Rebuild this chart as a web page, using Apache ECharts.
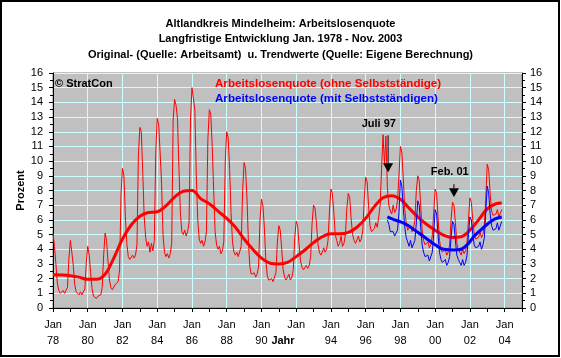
<!DOCTYPE html>
<html>
<head>
<meta charset="utf-8">
<script src="https://cdn.jsdelivr.net/npm/echarts@6/dist/echarts.min.js"></script>
<style>
html,body{margin:0;padding:0;background:#fff;}
#c{width:561px;height:358px;}
</style>
</head>
<body>
<div id="c"></div>
<script>
// Tick labels of the time axis (every second January, months counted from Jan 1978)
// (the year "92" is covered by the axis title "Jahr" in the original)
const yearTicks = ['78','80','82','84','86','88','90','','94','96','98','00','02','04'];

// Title lines
const titleLines = [
  'Altlandkreis Mindelheim: Arbeitslosenquote',
  'Langfristige Entwicklung Jan. 1978 - Nov. 2003',
  'Original- (Quelle: Arbeitsamt)  u. Trendwerte (Quelle: Eigene Berechnung)'
];

// Arbeitslosenquote ohne Selbstständige, monthly Jan 1978 - Nov 2003
const redQuote = [
  5.1, 4.2, 3.0, 1.7, 1.2, 1.0, 1.0, 1.2, 1.0, 1.1, 1.4, 3.4,      // 1978
  4.6, 3.8, 2.9, 1.6, 1.1, 1.0, 0.9, 1.1, 0.9, 1.0, 1.3, 3.1,      // 1979
  4.2, 3.6, 2.4, 1.3, 0.8, 0.7, 0.65, 0.8, 0.7, 0.9, 1.4, 3.6,     // 1980
  5.1, 4.6, 3.2, 1.9, 1.4, 1.25, 1.3, 1.6, 1.5, 1.8, 2.6, 7.8,     // 1981
  9.5, 9.0, 6.2, 4.4, 3.5, 3.3, 3.2, 3.6, 3.4, 3.6, 4.3, 10.4,     // 1982
  12.3, 12.0, 9.3, 6.2, 4.8, 4.2, 4.5, 3.8, 4.4, 3.9, 4.6, 10.6,   // 1983
  12.9, 12.5, 10.6, 8.5, 5.0, 3.8, 3.5, 3.7, 3.4, 3.7, 4.4, 12.8,  // 1984
  14.2, 13.8, 12.9, 9.5, 6.5, 5.2, 5.0, 5.3, 4.9, 5.2, 5.8, 12.8,  // 1985
  15.0, 14.9, 13.5, 9.0, 6.0, 4.7, 4.4, 4.6, 4.2, 4.5, 5.2, 11.5,  // 1986
  13.5, 13.2, 11.0, 8.0, 5.2, 4.3, 4.0, 4.2, 3.7, 3.9, 4.5, 10.0,  // 1987
  12.0, 11.6, 9.5, 6.5, 4.5, 3.8, 3.6, 3.8, 3.5, 3.6, 4.2, 8.0,    // 1988
  9.9, 9.5, 7.5, 4.5, 2.8, 2.3, 2.2, 2.4, 2.1, 2.3, 2.8, 6.0,      // 1989
  7.4, 7.0, 5.5, 3.3, 2.2, 1.9, 1.8, 2.0, 1.8, 1.9, 2.4, 4.5,      // 1990
  5.6, 5.3, 4.0, 2.6, 2.1, 1.9, 2.0, 2.3, 1.9, 2.1, 2.6, 4.8,      // 1991
  5.9, 5.6, 4.3, 3.2, 2.8, 2.6, 2.7, 2.9, 2.7, 2.9, 3.5, 5.8,      // 1992
  7.0, 6.8, 5.8, 4.4, 3.8, 3.6, 3.8, 4.1, 3.8, 4.0, 4.6, 6.6,      // 1993
  8.1, 7.8, 6.5, 5.0, 4.6, 4.2, 4.4, 4.9, 4.2, 4.4, 5.0, 6.8,      // 1994
  7.8, 7.5, 6.0, 5.0, 4.6, 4.4, 4.5, 4.9, 4.5, 4.7, 5.3, 7.4,      // 1995
  8.9, 8.6, 7.0, 5.6, 5.2, 5.1, 5.4, 5.8, 5.5, 6.2, 7.0, 9.5,      // 1996
  11.8, 9.8, 11.7, 8.2, 7.0, 6.6, 6.4, 7.0, 6.5, 6.7, 7.3, 9.0,    // 1997
  11.0, 10.6, 8.8, 6.7, 5.8, 5.3, 5.2, 5.6, 5.2, 5.4, 6.0, 8.0,    // 1998
  9.0, 8.7, 7.0, 5.3, 4.6, 4.3, 4.2, 4.5, 4.1, 4.3, 4.9, 6.5,      // 1999
  8.1, 7.8, 6.2, 4.6, 4.0, 3.8, 3.7, 4.0, 3.6, 3.8, 4.3, 6.0,      // 2000
  7.2, 7.0, 5.8, 4.4, 4.0, 3.8, 3.6, 4.0, 3.7, 3.9, 4.4, 6.0,      // 2001
  7.5, 7.2, 6.0, 5.0, 4.7, 4.6, 4.8, 5.2, 4.8, 5.0, 5.6, 7.5,      // 2002
  9.8, 9.4, 7.8, 6.6, 6.3, 6.2, 6.4, 6.7, 6.2, 6.3, 6.7            // 2003
];

// Arbeitslosenquote mit Selbstständigen, monthly Apr 1997 - Nov 2003
const blueStartMonth = 231;
const blueQuote = [
  6.0, 5.7, 5.2, 5.1, 5.2, 4.9, 5.0, 5.3, 6.5,                     // 1997 Apr-Dec
  8.7, 8.3, 6.8, 5.5, 4.8, 4.5, 4.2, 4.6, 4.1, 4.0, 4.6, 5.8,      // 1998
  7.3, 7.0, 5.5, 4.3, 3.8, 3.5, 3.4, 3.6, 3.2, 3.3, 3.8, 5.0,      // 1999
  6.7, 6.4, 5.0, 3.8, 3.3, 3.1, 3.0, 3.3, 2.9, 3.1, 3.5, 4.8,      // 2000
  5.9, 5.7, 4.6, 3.6, 3.3, 3.1, 2.9, 3.3, 2.9, 3.1, 3.6, 5.0,      // 2001
  6.2, 6.0, 5.0, 4.3, 4.1, 4.0, 4.2, 4.5, 4.0, 4.3, 4.8, 6.6,      // 2002
  8.3, 7.8, 6.4, 5.6, 5.3, 5.2, 5.4, 5.8, 5.3, 5.4, 5.9            // 2003
];

// Trend (ohne Selbstständige): month index and value
const redTrendMonths = [0,6,12,18,24,30,36,42,48,54,60,66,72,78,84,90,96,102,108,114,120,126,132,138,144,150,156,162,168,174,180,186,192,198,204,210,216,222,228,234,240,246,252,258,264,270,276,282,288,294,300,306,310];
const redTrendValues = [2.27,2.25,2.2,2.1,1.95,1.95,2.3,3.4,4.7,5.65,6.25,6.5,6.55,6.95,7.55,7.95,8.0,7.45,7.1,6.6,6.1,5.5,4.7,4.0,3.4,3.05,3.0,3.1,3.5,3.95,4.45,4.85,5.05,5.05,5.15,5.5,6.1,6.9,7.5,7.65,7.4,6.8,6.2,5.7,5.3,4.95,4.8,4.85,5.3,6.0,6.75,7.1,7.15];

// Trend (mit Selbstständigen)
const blueTrendMonths = [231,236,243,250,257,264,270,277,282,287,291,296,300,305,310];
const blueTrendValues = [6.2,6.0,5.75,5.3,4.8,4.3,4.0,3.95,4.0,4.4,4.9,5.35,5.7,6.05,6.2];

const FONT = '"Liberation Sans", Arial, sans-serif';
const GRIDC = '#ccffff';

const chart = echarts.init(document.getElementById('c'), null, {renderer: 'canvas'});

const redData = redQuote.map((v, i) => [i, v]);
const blueData = blueQuote.map((v, i) => [blueStartMonth + i, v]);
const redTrend = redTrendMonths.map((m, i) => [m, redTrendValues[i]]);
const blueTrend = blueTrendMonths.map((m, i) => [m, blueTrendValues[i]]);

const yAxisBase = {
  type: 'value', min: 0, max: 16, interval: 1,
  axisLine: {show: true, lineStyle: {color: '#000', width: 1}},
  axisTick: {show: true, inside: false, length: 4, lineStyle: {color: '#000'}},
  minorTick: {show: true, splitNumber: 2, length: 3, lineStyle: {color: '#000'}},
  axisLabel: {color: '#000', fontFamily: FONT, fontSize: 11, margin: 8}
};

chart.setOption({
  animation: false,
  backgroundColor: '#fff',
  title: titleLines.map((t, i) => ({
    text: t, left: 'center', top: 13 + i * 15.5,
    textStyle: {fontFamily: FONT, fontSize: 11, fontWeight: 'bold', color: '#000'}
  })),
  grid: {left: 53, right: 39, top: 73, bottom: 50, show: true, backgroundColor: '#c0c0c0',
         borderColor: '#808080', borderWidth: 1, containLabel: false, outerBoundsMode: 'none'},
  xAxis: {
    type: 'value', min: 0, max: 324, interval: 24,
    name: 'Jahr', nameLocation: 'middle', nameGap: 27, nameMoveOverlap: false,
    nameTextStyle: {fontFamily: FONT, fontSize: 11, fontWeight: 'bold', color: '#000', padding: [0, 9, 0, 0]},
    axisLine: {show: true, onZero: false, lineStyle: {color: '#000'}},
    axisTick: {show: true, length: 4, lineStyle: {color: '#000'}},
    minorTick: {show: true, splitNumber: 2, length: 4, lineStyle: {color: '#000'}},
    splitLine: {show: true, lineStyle: {color: GRIDC, width: 1}},
    axisLabel: {
      color: '#000', fontFamily: FONT, fontSize: 11, lineHeight: 16, margin: 9,
      showMaxLabel: false,
      formatter: function (v) {
        if (v % 24 !== 0) return '';
        const k = v / 24;
        return k < yearTicks.length ? 'Jan\n' + yearTicks[k] : '';
      }
    }
  },
  yAxis: [
    Object.assign({}, yAxisBase, {
      position: 'left',
      axisLabel: Object.assign({}, yAxisBase.axisLabel, {margin: 10}),
      name: 'Prozent', nameLocation: 'middle', nameGap: 27, nameRotate: 90, nameMoveOverlap: false,
      nameTextStyle: {fontFamily: FONT, fontSize: 11, fontWeight: 'bold', color: '#000'},
      splitLine: {show: true, lineStyle: {color: GRIDC, width: 1}}
    }),
    Object.assign({}, yAxisBase, {
      position: 'right',
      splitLine: {show: false}
    })
  ],
  series: [
    {name: 'Arbeitslosenquote (ohne Selbstständige)', type: 'line', data: redData, showSymbol: false,
     lineStyle: {color: '#ff0000', width: 1}, itemStyle: {color: '#ff0000'}, z: 2},
    {name: 'Trend ohne', type: 'line', data: redTrend, showSymbol: false, smooth: 0.4,
     lineStyle: {color: '#ff0000', width: 3}, itemStyle: {color: '#ff0000'}, z: 3},
    {name: 'Arbeitslosenquote (mit Selbstständigen)', type: 'line', data: blueData, showSymbol: false,
     lineStyle: {color: '#0000ff', width: 1}, itemStyle: {color: '#0000ff'}, z: 4},
    {name: 'Trend mit', type: 'line', data: blueTrend, showSymbol: false, smooth: 0.4,
     lineStyle: {color: '#0000ff', width: 3}, itemStyle: {color: '#0000ff'}, z: 5}
  ]
});

// Annotations (arrows placed via the chart's own coordinate conversion)
function px(m, v) { return chart.convertToPixel({gridIndex: 0}, [m, v]); }
function arrow(m, vTop, vBase, vTip, half) {
  const a = px(m, vTop), b = px(m, vBase), c = px(m, vTip);
  return [
    {type: 'line', shape: {x1: a[0], y1: a[1], x2: b[0], y2: b[1]}, style: {stroke: '#000', lineWidth: 1}, z: 20},
    {type: 'polygon', shape: {points: [[b[0] - half, b[1]], [b[0] + half, b[1]], [c[0], c[1]]]}, style: {fill: '#000'}, z: 20}
  ];
}
const jl = px(225.1, 12.56), fb = px(274.1, 9.27);
const txt = (x, y, s, color, size, align) => ({
  type: 'text', x: x, y: y, z: 30,
  style: {text: s, fill: color, font: 'bold ' + size + 'px ' + FONT, textAlign: align || 'left', textVerticalAlign: 'middle'}
});
chart.setOption({
  graphic: [
    {type: 'rect', shape: {x: 1, y: 1, width: 558, height: 355}, style: {fill: 'none', stroke: '#000', lineWidth: 2}, z: 50},
    txt(55, 83.5, '© StratCon', '#000', 11),
    txt(215, 83.5, 'Arbeitslosenquote (ohne Selbstständige)', '#ff0000', 11.6),
    txt(215, 98.5, 'Arbeitslosenquote (mit Selbstständigen)', '#0000ff', 11.6),
    txt(jl[0], jl[1], 'Juli 97', '#000', 11, 'center'),
    txt(fb[0], fb[1], 'Feb. 01', '#000', 11, 'center')
  ].concat(arrow(231.5, 11.76, 9.86, 9.25, 5)).concat(arrow(277.0, 8.43, 8.16, 7.55, 5))
});
</script>
</body>
</html>
